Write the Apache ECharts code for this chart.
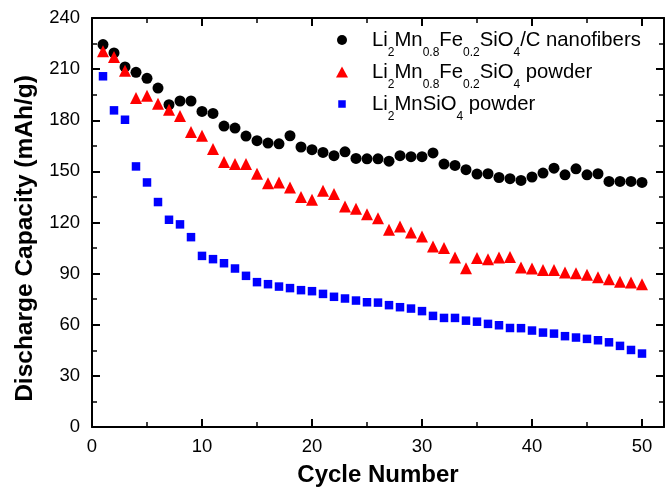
<!DOCTYPE html>
<html><head><meta charset="utf-8">
<script src="https://cdn.jsdelivr.net/npm/echarts@6/dist/echarts.min.js"></script>
<style>html,body{margin:0;padding:0;background:#fff}#c{width:672px;height:489px}</style>
</head><body><div id="c"></div>
<script>
const cycles = Array.from({length: 50}, (_, i) => i + 1);
const nanofibers = [224.4,219.5,211.3,208.1,204.6,198.9,189.1,191.3,191.3,185.2,184.0,176.6,175.4,170.7,168.0,166.6,166.2,170.9,164.3,162.7,161.1,159.2,161.5,157.6,157.4,157.4,156.0,159.2,158.6,158.6,160.8,154.3,153.5,151.0,148.4,148.6,146.4,145.7,144.7,146.7,149.0,151.9,148.0,151.5,148.0,148.6,144.1,144.1,144.1,143.5];
const fePowder = [220.5,217.1,209.1,193.1,194.4,189.7,186.2,182.5,173.1,170.9,163.1,155.5,154.3,154.3,148.6,143.1,143.5,140.6,134.9,133.3,138.6,136.7,129.4,128.0,124.9,122.5,115.7,117.6,114.1,111.8,105.9,105.0,99.5,93.2,99.1,98.5,99.5,99.7,93.6,93.0,92.2,92.2,90.6,90.2,89.3,87.9,86.7,85.3,84.8,83.8];
const mnPowder = [205.8,185.8,180.3,152.9,143.5,132.0,121.6,118.9,111.4,100.4,98.5,96.1,93.0,88.7,85.0,83.8,82.4,81.5,80.3,79.7,78.1,76.4,75.4,74.2,73.2,73.0,71.5,70.3,69.5,68.0,65.2,64.0,64.0,62.4,61.8,60.5,59.7,58.1,58.0,56.6,55.4,54.8,53.3,52.5,51.7,50.9,49.7,47.6,45.2,43.1];
const xTicks = [0,10,20,30,40,50];
const yTicks = [0,30,60,90,120,150,180,210,240];
const names = ['nanofibers','fepowder','mnpowder'];
const labels = {
  nanofibers: '{n|Li}{s|2}{n|Mn}{s|0.8}{n|Fe}{s|0.2}{n|SiO}{s|4}{n|/C nanofibers}',
  fepowder: '{n|Li}{s|2}{n|Mn}{s|0.8}{n|Fe}{s|0.2}{n|SiO}{s|4}{n| powder}',
  mnpowder: '{n|Li}{s|2}{n|MnSiO}{s|4}{n| powder}'
};
const pair = arr => arr.map((v, i) => [cycles[i], v]);
const F = 'Liberation Sans';
const axisLine = {show: true, onZero: false, lineStyle: {color: '#000', width: 2}};
const tick = {show: true, inside: true, length: 8, lineStyle: {color: '#000', width: 2}};
const minor = {show: true, splitNumber: 2, length: 5, lineStyle: {color: '#000', width: 1.5}};
// legend rows: icon sizes and row centres
const legendRows = [
  {name: 'nanofibers', icon: 'circle', w: 10, h: 10, cy: 40},
  {name: 'fepowder', icon: 'triangle', w: 12, h: 11, cy: 72},
  {name: 'mnpowder', icon: 'rect', w: 7.5, h: 7.5, cy: 104}
];
const iconCx = 342, textX = 372;
const legends = legendRows.map(r => ({
  orient: 'vertical', padding: 0, selectedMode: false,
  left: iconCx - r.w / 2, top: r.cy - 10,
  itemWidth: r.w, itemHeight: r.h,
  data: [{name: r.name, icon: r.icon}],
  formatter: n => '{g| }' + labels[n],
  textStyle: {
    fontFamily: F, color: '#000',
    rich: {
      g: {width: textX - (iconCx + r.w / 2 + 5), fontSize: 1, lineHeight: 20, verticalAlign: 'top'},
      n: {fontSize: 20.3, fontFamily: F, color: '#000', lineHeight: 20, verticalAlign: 'top', padding: [0,0,0,0]},
      s: {fontSize: 12, fontFamily: F, color: '#000', lineHeight: 20, verticalAlign: 'top', padding: [17,0,0,0]}
    }
  }
}));
const chart = echarts.init(document.getElementById('c'));
chart.setOption({
  animation: false,
  backgroundColor: '#fff',
  grid: {left: 92, right: 8, top: 18, bottom: 62, containLabel: false, outerBoundsMode: 'none'},
  legend: legends,
  xAxis: [{
    type: 'value', min: 0, max: 52, interval: 10,
    name: 'Cycle Number', nameLocation: 'middle', nameGap: 36,
    nameTextStyle: {fontFamily: F, fontWeight: 'bold', fontSize: 24, color: '#000'},
    axisLine, axisTick: tick, minorTick: minor,
    axisLabel: {fontFamily: F, fontSize: 18.5, color: '#000', margin: 10,
      formatter: v => xTicks.includes(v) ? String(v) : ''},
    splitLine: {show: false}
  }, {
    type: 'value', position: 'top', min: 0, max: 52, interval: 10,
    axisLine, axisTick: tick, minorTick: minor, axisLabel: {show: false}, splitLine: {show: false}
  }],
  yAxis: [{
    type: 'value', min: 0, max: 240, interval: 30,
    name: 'Discharge Capacity (mAh/g)', nameLocation: 'middle', nameGap: 52,
    nameTextStyle: {fontFamily: F, fontWeight: 'bold', fontSize: 24.5, color: '#000', padding: [0,32,0,0]},
    axisLine, axisTick: tick, minorTick: minor,
    axisLabel: {fontFamily: F, fontSize: 18.5, color: '#000', margin: 12,
      formatter: v => yTicks.includes(v) ? String(v) : ''},
    splitLine: {show: false}
  }, {
    type: 'value', position: 'right', min: 0, max: 240, interval: 30,
    axisLine, axisTick: tick, minorTick: minor, axisLabel: {show: false}, splitLine: {show: false}
  }],
  series: [
    {name: 'nanofibers', type: 'scatter', symbol: 'circle', symbolSize: 11, itemStyle: {color: '#000', opacity: 1}, data: pair(nanofibers)},
    {name: 'fepowder', type: 'scatter', symbol: 'triangle', symbolSize: 12, itemStyle: {color: '#ff0000', opacity: 1}, data: pair(fePowder)},
    {name: 'mnpowder', type: 'scatter', symbol: 'rect', symbolSize: 8.5, itemStyle: {color: '#0000ff', opacity: 1}, data: pair(mnPowder)}
  ]
});
</script></body></html>
